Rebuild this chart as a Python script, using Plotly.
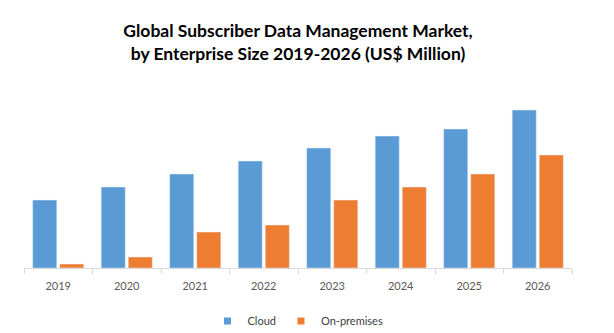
import plotly.graph_objects as go

years = ["2019", "2020", "2021", "2022", "2023", "2024", "2025", "2026"]
cloud = [68, 81, 94, 107, 120, 132, 139, 158]
on_premises = [4, 11, 36, 43, 68, 81, 94, 113]
series_names = ["Cloud", "On-premises"]
colors = ["#5B9BD5", "#ED7D31"]

fig = go.Figure()
for name, vals, col in zip(series_names, [cloud, on_premises], colors):
    fig.add_trace(go.Bar(x=years, y=vals, name=name, marker_color=col, showlegend=False))
for name, col in zip(series_names, colors):
    fig.add_trace(go.Scatter(x=[None], y=[None], mode="markers", name=name,
                             marker=dict(symbol="square", size=7, color=col)))

fig.update_layout(
    width=614, height=333,
    margin=dict(l=24, r=42, t=90, b=65, autoexpand=False),
    paper_bgcolor="white", plot_bgcolor="white",
    barmode="group", bargap=0.21, bargroupgap=0.11,
    font=dict(family="Lato, Noto Sans, sans-serif", color="#595959"),
    title=dict(
        text="<b>Global Subscriber Data Management Market,<br>by Enterprise Size 2019-2026 (US$ Million)</b>",
        x=0.5, xanchor="center", xref="paper",
        y=1 - 37 / 333, yref="container", yanchor="middle",
        font=dict(size=17.5, color="black", family="Lato, Noto Sans, sans-serif"),
    ),
    showlegend=True,
    legend=dict(
        orientation="h", x=0.5, xanchor="center",
        yref="container", y=1 - 321 / 333, yanchor="middle",
        font=dict(size=11, color="#404040"), itemwidth=30,
    ),
    xaxis=dict(
        showline=True, linecolor="#D9D9D9", linewidth=1,
        ticks="outside", tickson="boundaries", ticklen=5, tickcolor="#D9D9D9",
        tickfont=dict(size=11, color="#595959"), ticklabelstandoff=8,
        showgrid=False, automargin=False,
    ),
    yaxis=dict(visible=False, range=[0, 178], showgrid=False),
)

fig.write_html("out.html")
